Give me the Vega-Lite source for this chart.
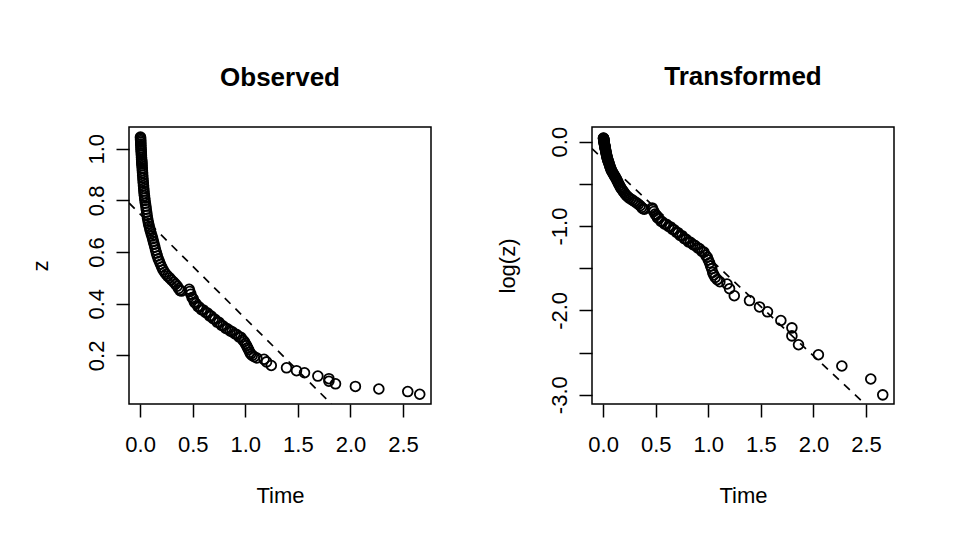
{
  "$schema": "https://vega.github.io/schema/vega-lite/v6.json",
  "padding": {"left": 28, "top": 63, "right": 5, "bottom": 5},
  "background": "white",
  "bounds": "flush",
  "spacing": 161,
  "config": {
    "font": "Liberation Sans",
    "view": {"stroke": "#000", "strokeWidth": 1.5},
    "axis": {
      "domain": false, "grid": false, "ticks": true, "tickSize": 13, "tickColor": "#000", "tickWidth": 1.5,
      "labelFont": "Liberation Sans", "labelFontSize": 22, "labelColor": "#000",
      "titleFont": "Liberation Sans", "titleFontSize": 22, "titleFontWeight": "normal", "titleColor": "#000",
      "labelOverlap": false
    },
    "title": {"font": "Liberation Sans", "fontSize": 26, "fontWeight": "bold", "color": "#000"}
  },
  "datasets": {
    "pts": [
      {"t":0.003,"z":1.045},{"t":0.004,"z":1.041},{"t":0.004,"z":1.036},{"t":0.005,"z":1.031},{"t":0.006,"z":1.025},
      {"t":0.006,"z":1.018},{"t":0.007,"z":1.012},{"t":0.008,"z":1.004},{"t":0.009,"z":0.997},{"t":0.010,"z":0.990},
      {"t":0.011,"z":0.982},{"t":0.012,"z":0.975},{"t":0.013,"z":0.966},{"t":0.014,"z":0.958},{"t":0.015,"z":0.952},
      {"t":0.016,"z":0.947},{"t":0.017,"z":0.941},{"t":0.018,"z":0.934},{"t":0.020,"z":0.925},{"t":0.021,"z":0.916},
      {"t":0.023,"z":0.907},{"t":0.024,"z":0.897},{"t":0.026,"z":0.887},{"t":0.028,"z":0.877},{"t":0.030,"z":0.867},
      {"t":0.032,"z":0.857},{"t":0.034,"z":0.846},{"t":0.036,"z":0.836},{"t":0.038,"z":0.827},{"t":0.041,"z":0.818},
      {"t":0.043,"z":0.809},{"t":0.046,"z":0.800},
      {"t":0.050,"z":0.789},{"t":0.054,"z":0.778},{"t":0.058,"z":0.766},{"t":0.062,"z":0.754},{"t":0.066,"z":0.742},
      {"t":0.070,"z":0.731},{"t":0.075,"z":0.720},{"t":0.080,"z":0.710},{"t":0.086,"z":0.700},{"t":0.092,"z":0.690},
      {"t":0.098,"z":0.681},{"t":0.105,"z":0.671},{"t":0.112,"z":0.662},{"t":0.119,"z":0.652},{"t":0.126,"z":0.641},
      {"t":0.133,"z":0.630},{"t":0.140,"z":0.619},{"t":0.147,"z":0.607},{"t":0.155,"z":0.596},{"t":0.163,"z":0.585},
      {"t":0.172,"z":0.574},{"t":0.182,"z":0.564},{"t":0.193,"z":0.553},{"t":0.205,"z":0.542},{"t":0.218,"z":0.531},
      {"t":0.232,"z":0.522},{"t":0.246,"z":0.514},
      {"t":0.262,"z":0.507},{"t":0.280,"z":0.500},{"t":0.298,"z":0.492},{"t":0.318,"z":0.484},{"t":0.336,"z":0.476},
      {"t":0.352,"z":0.468},{"t":0.366,"z":0.459},{"t":0.378,"z":0.452},{"t":0.392,"z":0.449},{"t":0.466,"z":0.456},
      {"t":0.472,"z":0.447},
      {"t":0.482,"z":0.437},{"t":0.494,"z":0.424},{"t":0.505,"z":0.418},{"t":0.516,"z":0.406},{"t":0.530,"z":0.401},
      {"t":0.548,"z":0.390},{"t":0.562,"z":0.387},{"t":0.583,"z":0.377},{"t":0.600,"z":0.376},{"t":0.622,"z":0.366},
      {"t":0.641,"z":0.364},{"t":0.660,"z":0.353},{"t":0.676,"z":0.352},{"t":0.695,"z":0.342},{"t":0.712,"z":0.340},
      {"t":0.732,"z":0.329},{"t":0.750,"z":0.328},{"t":0.772,"z":0.317},{"t":0.790,"z":0.314},{"t":0.812,"z":0.305},
      {"t":0.830,"z":0.303},{"t":0.856,"z":0.295},{"t":0.874,"z":0.292},{"t":0.900,"z":0.284},{"t":0.918,"z":0.281},
      {"t":0.940,"z":0.272},{"t":0.958,"z":0.270},{"t":0.975,"z":0.260},{"t":0.990,"z":0.254},{"t":1.000,"z":0.246},
      {"t":1.012,"z":0.238},{"t":1.022,"z":0.229},{"t":1.032,"z":0.222},{"t":1.042,"z":0.212},{"t":1.052,"z":0.206},
      {"t":1.066,"z":0.200},{"t":1.085,"z":0.195},{"t":1.110,"z":0.190},
      {"t":1.178,"z":0.185},{"t":1.202,"z":0.175},{"t":1.247,"z":0.161},{"t":1.392,"z":0.152},{"t":1.487,"z":0.141},
      {"t":1.563,"z":0.133},{"t":1.690,"z":0.120},{"t":1.795,"z":0.110},{"t":1.795,"z":0.100},{"t":1.858,"z":0.090},
      {"t":2.047,"z":0.080},{"t":2.270,"z":0.070},{"t":2.545,"z":0.060},{"t":2.659,"z":0.0497}
    ],
    "lineObs": [{"t":-0.106,"z":0.790},{"t":1.819,"z":0.012}],
    "lineTr": [{"t":-0.106,"z":0.920},{"t":2.490,"z":0.0446}]
  },
  "hconcat": [
    {
      "width": 302, "height": 277,
      "title": {"text": "Observed", "offset": 15, "baseline": "alphabetic", "frame": "group", "anchor": "middle"},
      "layer": [
        {
          "data": {"name": "pts"},
          "mark": {"type": "point", "shape": "circle", "filled": false, "size": 95, "strokeWidth": 1.8, "color": "#000", "opacity": 1},
          "encoding": {
            "x": {"field": "t", "type": "quantitative", "scale": {"domain": [-0.106, 2.766], "nice": false, "zero": false},
                  "axis": {"title": "Time", "values": [0, 0.5, 1, 1.5, 2, 2.5], "format": ".1f", "labelPadding": 17, "labelBaseline": "top",
                           "titleX": 151, "titleY": 98, "titleBaseline": "alphabetic", "titleAlign": "center"}},
            "y": {"field": "z", "type": "quantitative", "scale": {"domain": [0.012, 1.084], "nice": false, "zero": false},
                  "axis": {"title": "z", "values": [0.2, 0.4, 0.6, 0.8, 1.0], "format": ".1f", "labelAngle": 270, "labelAlign": "center", "labelBaseline": "alphabetic", "labelPadding": 13,
                           "titleAngle": 270, "titleX": -82, "titleY": 138.5, "titleBaseline": "alphabetic", "titleAlign": "center"}}
          }
        },
        {
          "data": {"name": "lineObs"},
          "mark": {"type": "line", "strokeDash": [8, 7], "strokeWidth": 1.7, "color": "#000", "clip": true},
          "encoding": {
            "x": {"field": "t", "type": "quantitative"},
            "y": {"field": "z", "type": "quantitative"}
          }
        }
      ]
    },
    {
      "width": 302, "height": 277,
      "title": {"text": "Transformed", "offset": 15, "baseline": "alphabetic", "frame": "group", "anchor": "middle"},
      "layer": [
        {
          "data": {"name": "pts"},
          "mark": {"type": "point", "shape": "circle", "filled": false, "size": 95, "strokeWidth": 1.8, "color": "#000", "opacity": 1},
          "encoding": {
            "x": {"field": "t", "type": "quantitative", "scale": {"domain": [-0.106, 2.766], "nice": false, "zero": false},
                  "axis": {"title": "Time", "values": [0, 0.5, 1, 1.5, 2, 2.5], "format": ".1f", "labelPadding": 17, "labelBaseline": "top",
                           "titleX": 151, "titleY": 98, "titleBaseline": "alphabetic", "titleAlign": "center"}},
            "y": {"field": "z", "type": "quantitative", "scale": {"type": "log", "base": 2.718281828459045, "domain": [0.0446, 1.190], "nice": false, "zero": false},
                  "axis": {"title": "log(z)", "values": [1, 0.60653066, 0.36787944, 0.22313016, 0.13533528, 0.082085, 0.04978707],
                           "labelExpr": "round(log(datum.value)*2) % 2 == 0 ? (round(log(datum.value)) == 0 ? '0.0' : round(log(datum.value)) + '.0') : ''",
                           "labelAngle": 270, "labelAlign": "center", "labelBaseline": "alphabetic", "labelPadding": 13,
                           "titleAngle": 270, "titleX": -78, "titleY": 138.5, "titleBaseline": "alphabetic", "titleAlign": "center"}}
          }
        },
        {
          "data": {"name": "lineTr"},
          "mark": {"type": "line", "strokeDash": [8, 7], "strokeWidth": 1.7, "color": "#000", "clip": true},
          "encoding": {
            "x": {"field": "t", "type": "quantitative"},
            "y": {"field": "z", "type": "quantitative"}
          }
        }
      ]
    }
  ]
}
